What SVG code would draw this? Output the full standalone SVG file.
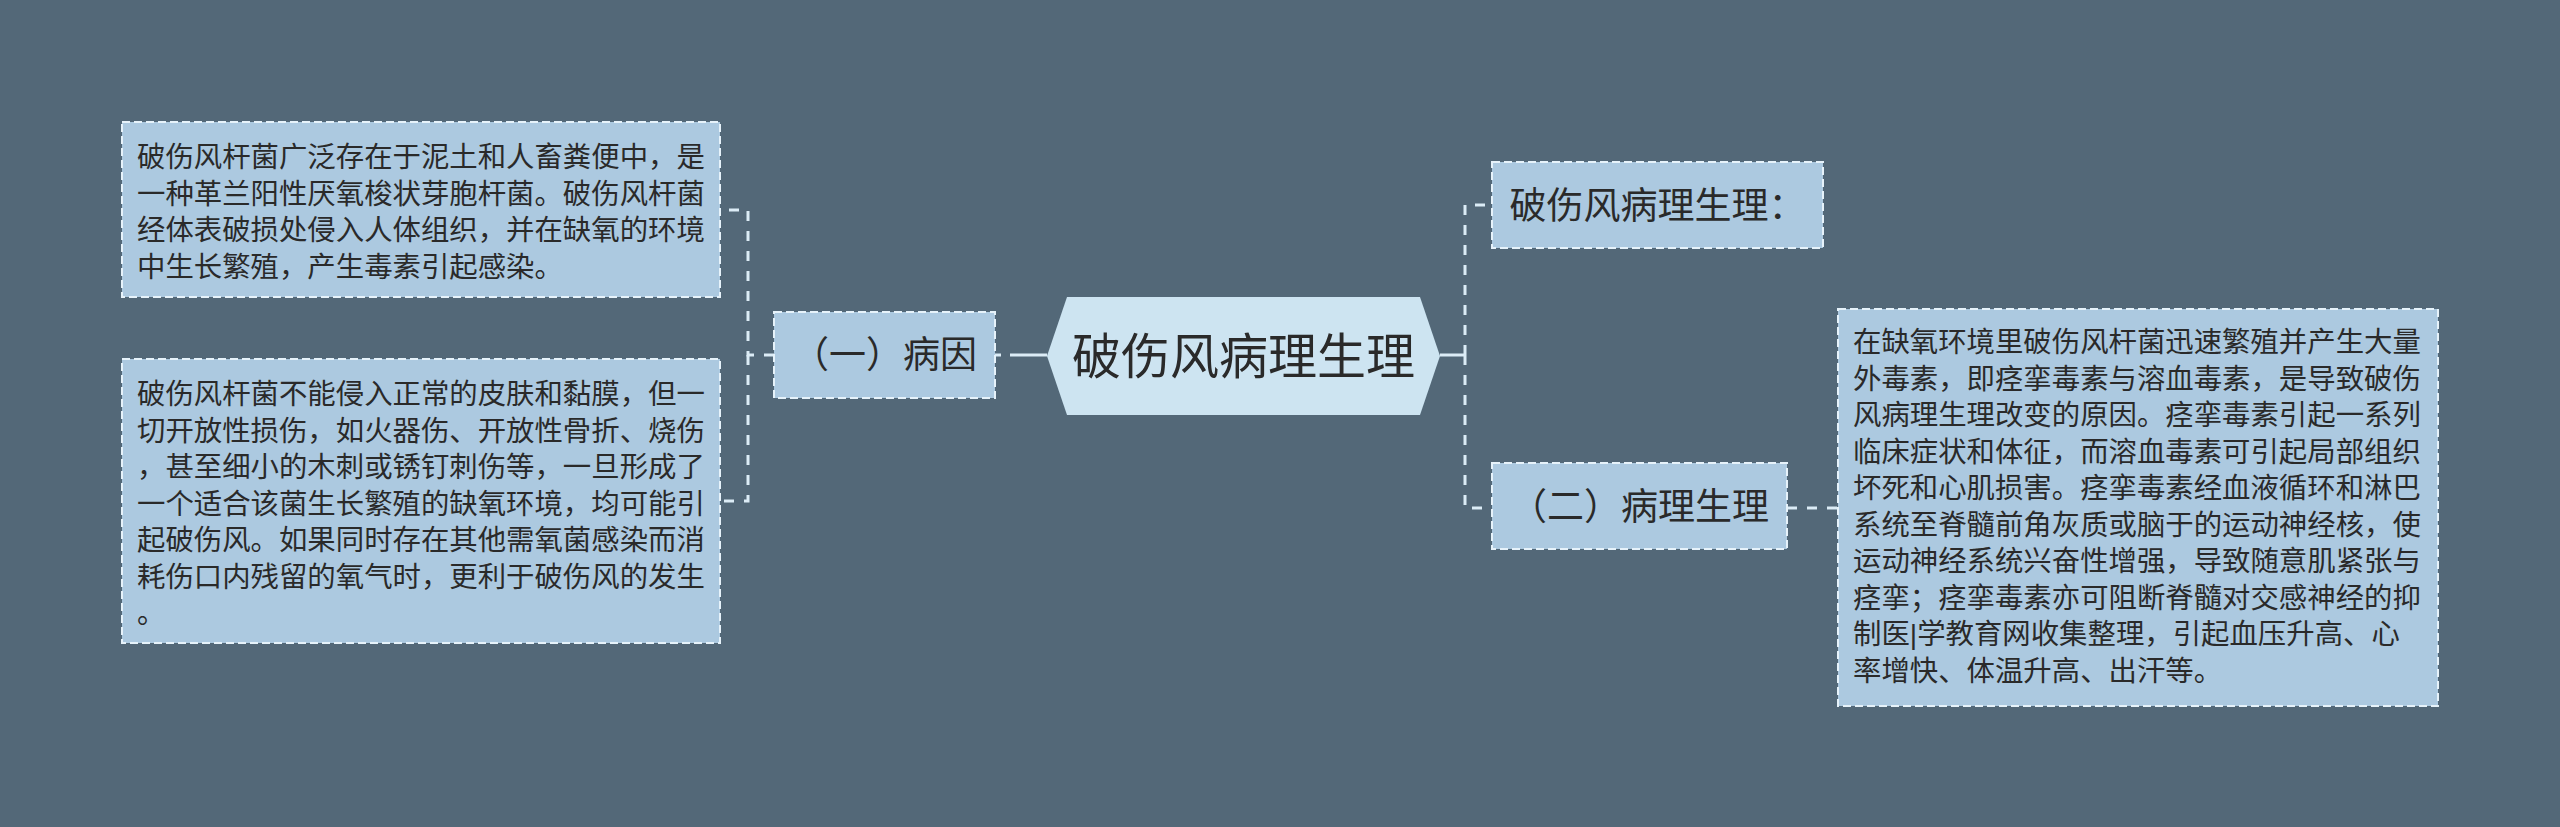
<svg xmlns="http://www.w3.org/2000/svg" width="2560" height="827" viewBox="0 0 2560 827">
<style>
.bg{fill:#536878}
.box{fill:#acc9e0;stroke:#e6f2fa;stroke-width:2;stroke-dasharray:8 4}
.center{fill:#cde4f1;stroke:none}
.conn{fill:none;stroke:#dcecf6;stroke-width:3;stroke-dasharray:10 10}
.solid{fill:none;stroke:#dcecf6;stroke-width:3}
text{font-family:"Liberation Sans","Noto Sans CJK SC",sans-serif;fill:#2a2a2a}
.small{font-size:28.4px}
.topic{font-size:37px}
.main{font-size:49px}
</style>
<rect class="bg" x="0" y="0" width="2560" height="827"/>
<g id="connectors">
<path class="conn" d="M774 355 H748 V210 H722"/>
<path class="conn" d="M748 355 V501 H722"/>
<path class="solid" d="M995 355 H1001"/>
<path class="solid" d="M1010 355 H1047"/>
<path class="solid" d="M1440 355 H1465"/>
<path class="conn" d="M1465 355 V205 H1492"/>
<path class="conn" d="M1465 355 V508 H1492"/>
<path class="conn" d="M1787 508 H1838"/>
</g>
<g id="center">
<polygon class="center" points="1047,356 1067,297 1420,297 1440,356 1420,415 1067,415"/>
<text class="main" x="1243.5" y="373.5" text-anchor="middle">破伤风病理生理</text>
</g>
<g id="cause">
<rect class="box" x="774" y="312" width="221" height="86"/>
<text class="topic" x="884.5" y="368" text-anchor="middle">（一）病因</text>
</g>
<g id="cause-1">
<rect class="box" x="122" y="122" width="598" height="175"/>
<text class="small" x="137" y="167">破伤风杆菌广泛存在于泥土和人畜粪便中，是</text>
<text class="small" x="137" y="203.5">一种革兰阳性厌氧梭状芽胞杆菌。破伤风杆菌</text>
<text class="small" x="137" y="240">经体表破损处侵入人体组织，并在缺氧的环境</text>
<text class="small" x="137" y="276.5">中生长繁殖，产生毒素引起感染。</text>
</g>
<g id="cause-2">
<rect class="box" x="122" y="359" width="598" height="284"/>
<text class="small" x="137" y="404">破伤风杆菌不能侵入正常的皮肤和黏膜，但一</text>
<text class="small" x="137" y="440.5">切开放性损伤，如火器伤、开放性骨折、烧伤</text>
<text class="small" x="137" y="477">，甚至细小的木刺或锈钉刺伤等，一旦形成了</text>
<text class="small" x="137" y="513.5">一个适合该菌生长繁殖的缺氧环境，均可能引</text>
<text class="small" x="137" y="550">起破伤风。如果同时存在其他需氧菌感染而消</text>
<text class="small" x="137" y="586.5">耗伤口内残留的氧气时，更利于破伤风的发生</text>
<text class="small" x="137" y="623">。</text>
</g>
<g id="patho-title">
<rect class="box" x="1492" y="162" width="331" height="86"/>
<text class="topic" x="1657.5" y="218.5" text-anchor="middle">破伤风病理生理：</text>
</g>
<g id="patho">
<rect class="box" x="1492" y="463" width="295" height="86"/>
<text class="topic" x="1639.5" y="519.5" text-anchor="middle">（二）病理生理</text>
</g>
<g id="patho-1">
<rect class="box" x="1838" y="309" width="600" height="397"/>
<text class="small" x="1853" y="352">在缺氧环境里破伤风杆菌迅速繁殖并产生大量</text>
<text class="small" x="1853" y="388.5">外毒素，即痉挛毒素与溶血毒素，是导致破伤</text>
<text class="small" x="1853" y="425">风病理生理改变的原因。痉挛毒素引起一系列</text>
<text class="small" x="1853" y="461.5">临床症状和体征，而溶血毒素可引起局部组织</text>
<text class="small" x="1853" y="498">坏死和心肌损害。痉挛毒素经血液循环和淋巴</text>
<text class="small" x="1853" y="534.5">系统至脊髓前角灰质或脑于的运动神经核，使</text>
<text class="small" x="1853" y="571">运动神经系统兴奋性增强，导致随意肌紧张与</text>
<text class="small" x="1853" y="607.5">痉挛；痉挛毒素亦可阻断脊髓对交感神经的抑</text>
<text class="small" x="1853" y="644">制医|学教育网收集整理，引起血压升高、心</text>
<text class="small" x="1853" y="680.5">率增快、体温升高、出汗等。</text>
</g>
</svg>
